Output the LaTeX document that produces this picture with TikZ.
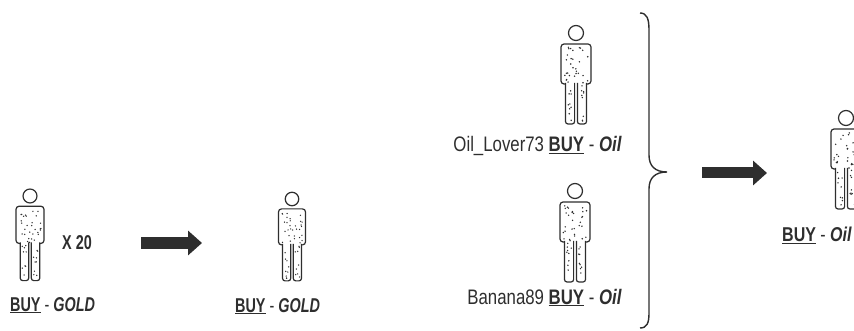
\documentclass[tikz,border=0pt]{standalone}
\usepackage{fontspec}
\setmainfont{Liberation Sans}[FakeStretch=0.72]
\usepackage{tikz}
\usetikzlibrary{arrows.meta}
\pgfdeclarelayer{edgelayer}
\pgfdeclarelayer{nodelayer}
\pgfsetlayers{edgelayer,nodelayer,main}
\definecolor{ink}{gray}{0.18}
\tikzstyle{none}=[inner sep=0pt]
\tikzstyle{label}=[inner sep=0pt, anchor=base west, text=ink, font=\fontsize{20}{24}\selectfont]
\tikzstyle{widelabel}=[style=label, font=\fontsize{21}{25}\selectfont\addfontfeature{FakeStretch=0.8}]
\tikzstyle{figline}=[draw=ink, line width=1.2pt, fill=white]
\tikzstyle{block}=[draw=ink, line width=11pt, -{Triangle[width=24pt,length=14pt]}]
\tikzstyle{bracket}=[draw=ink, line width=1.4pt]
\tikzset{
	person/.pic={
		\draw [style=figline] (0,0) circle (7.5);
		\draw [style=figline, rounded corners=3pt] (-10.5,51) -- (-15,51) -- (-15,11) -- (15,11) -- (15,51) -- (10.5,51);
		\draw [style=figline, rounded corners=2.5pt] (-10.5,50) -- (-10.5,91) -- (-1.4,91) -- (-1.4,50);
		\draw [style=figline, rounded corners=2.5pt] (10.5,50) -- (10.5,91) -- (1.4,91) -- (1.4,50);
		\foreach \d in {1,...,30} \fill [ink] ({rnd*24-12},{rnd*36+14}) circle (0.8);
		\foreach \d in {1,...,9} \fill [ink] ({rnd*5-8.5},{rnd*36+52}) circle (0.8);
		\foreach \d in {1,...,9} \fill [ink] ({rnd*5+3.5},{rnd*36+52}) circle (0.8);
	}
}
\newcommand{\buy}{\underline{\textbf{BUY}}}

\begin{document}
\begin{tikzpicture}[x=1pt, y=-1pt]
	\pgfmathsetseed{20}
	\useasboundingbox (0,0) rectangle (854,331);
	\begin{pgfonlayer}{nodelayer}
		\pic [scale=0.93] at (30,196) {person};
		\pic [scale=0.9] at (292,199) {person};
		\pic at (576,33) {person};
		\pic at (575,191) {person};
		\pic at (846,118) {person};
		\node [style=label] (0) at (10,311) {\buy{} - \textbf{\textit{GOLD}}};
		\node [style=label, font=\fontsize{20}{24}\selectfont\bfseries] (1) at (62,250) {X 20};
		\node [style=label] (2) at (235,312) {\buy{} - \textbf{\textit{GOLD}}};
		\node [style=widelabel, anchor=base east] (3) at (622,152) {Oil\_Lover73 \buy{} - \textbf{\textit{Oil}}};
		\node [style=widelabel, anchor=base east] (4) at (622,304) {Banana89 \buy{} - \textbf{\textit{Oil}}};
		\node [style=widelabel, font=\fontsize{20}{24}\selectfont\addfontfeature{FakeStretch=0.8}, anchor=base east] (5) at (852,242) {\buy{} - \textbf{\textit{Oil}}};
		\coordinate (6) at (141,243);
		\coordinate (7) at (202,243);
		\coordinate (8) at (702,173);
		\coordinate (9) at (767,173);
		\coordinate (10) at (640,13);
		\coordinate (11) at (667,172);
		\coordinate (12) at (640,328);
	\end{pgfonlayer}
	\begin{pgfonlayer}{edgelayer}
		\draw [style=block] (6) to (7);
		\draw [style=block] (8) to (9);
		\draw [style=bracket] (10) .. controls (647,13) and (649,19) .. (649,30) -- (649,155) .. controls (649,166) and (655,172) .. (11) .. controls (655,172) and (649,178) .. (649,189) -- (649,313) .. controls (649,323) and (647,328) .. (12);
	\end{pgfonlayer}
\end{tikzpicture}
\end{document}
